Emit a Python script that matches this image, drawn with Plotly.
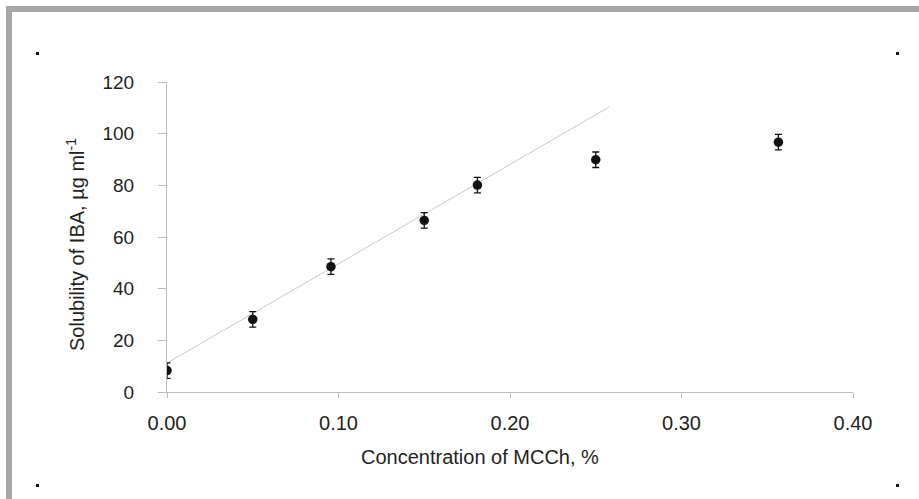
import plotly.graph_objects as go

# Data
conc = [0.0, 0.050, 0.0956, 0.150, 0.181, 0.250, 0.3565]
solubility = [8.3, 28.1, 48.5, 66.4, 80.1, 89.9, 96.7]
err = [3, 3, 3, 3, 3, 3, 3]
trend_x = [0.0, 0.258]
trend_y = [11.2, 110.4]
x_ticks = [0.0, 0.1, 0.2, 0.3, 0.4]
x_ticklabels = ["0.00", "0.10", "0.20", "0.30", "0.40"]
y_ticks = [0, 20, 40, 60, 80, 100, 120]

W, H = 919, 499
L, R, T, B = 167, 853, 82, 392

def px(x):
    return (x - L) / (R - L)

def py(y):
    return (B - y) / (B - T)

FONT = "Liberation Sans, Arial, sans-serif"
TXT = "#231f20"
AX = "#bdbdbd"

fig = go.Figure()
fig.add_trace(go.Scatter(x=trend_x, y=trend_y, mode="lines",
                         line=dict(color="#c9c9c9", width=1), hoverinfo="skip"))
fig.add_trace(go.Scatter(
    x=conc, y=solubility, mode="markers",
    marker=dict(color="#111111", size=9.5),
    error_y=dict(type="data", array=err, visible=True, color="#111111",
                 thickness=1.3, width=3.5)))

shapes = []
gray = "#a7a7a7"
shapes.append(dict(type="rect", xref="paper", yref="paper", x0=px(6), x1=px(W), y0=py(6), y1=py(12),
                   fillcolor=gray, line=dict(width=0), layer="below"))
shapes.append(dict(type="rect", xref="paper", yref="paper", x0=px(6), x1=px(12), y0=py(6), y1=py(H),
                   fillcolor=gray, line=dict(width=0), layer="below"))
for cx, cy in [(36, 52), (896, 52), (36, 484), (896, 484)]:
    shapes.append(dict(type="rect", xref="paper", yref="paper", x0=px(cx), x1=px(cx + 3),
                       y0=py(cy), y1=py(cy + 3), fillcolor="#111111", line=dict(width=0)))

annotations = [
    dict(text="Concentration of MCCh, %", xref="paper", yref="paper",
         x=px(480), y=py(457), xanchor="center", yanchor="middle", showarrow=False,
         font=dict(family=FONT, size=20, color=TXT)),
    dict(text="Solubility of IBA, \u00b5g ml<sup>-1</sup>", xref="paper", yref="paper",
         x=px(75), y=py(245), xanchor="center", yanchor="middle", showarrow=False,
         textangle=-90, font=dict(family=FONT, size=20, color=TXT)),
]

fig.update_layout(
    width=W, height=H, autosize=False,
    margin=dict(l=L, r=W - R, t=T, b=H - B, pad=0),
    paper_bgcolor="white", plot_bgcolor="white",
    showlegend=False, hovermode=False,
    shapes=shapes, annotations=annotations,
    font=dict(family=FONT, size=19, color=TXT),
    xaxis=dict(range=[0, 0.4], tickvals=x_ticks, ticktext=x_ticklabels,
               showline=True, linecolor=AX, linewidth=1, showgrid=False, zeroline=False,
               ticks="outside", ticklen=5, tickcolor=AX, tickwidth=1,
               ticklabelstandoff=8, tickfont=dict(family=FONT, size=20, color=TXT)),
    yaxis=dict(range=[0, 120], tickvals=y_ticks,
               showline=True, linecolor=AX, linewidth=1, showgrid=False, zeroline=False,
               ticks="outside", ticklen=8, tickcolor=AX, tickwidth=1,
               ticklabelstandoff=20, tickfont=dict(family=FONT, size=19, color=TXT)),
)

fig.write_html("out.html", config={"displayModeBar": False, "staticPlot": True},
               post_script="document.body.style.margin='0px';document.body.style.overflow='hidden';")
